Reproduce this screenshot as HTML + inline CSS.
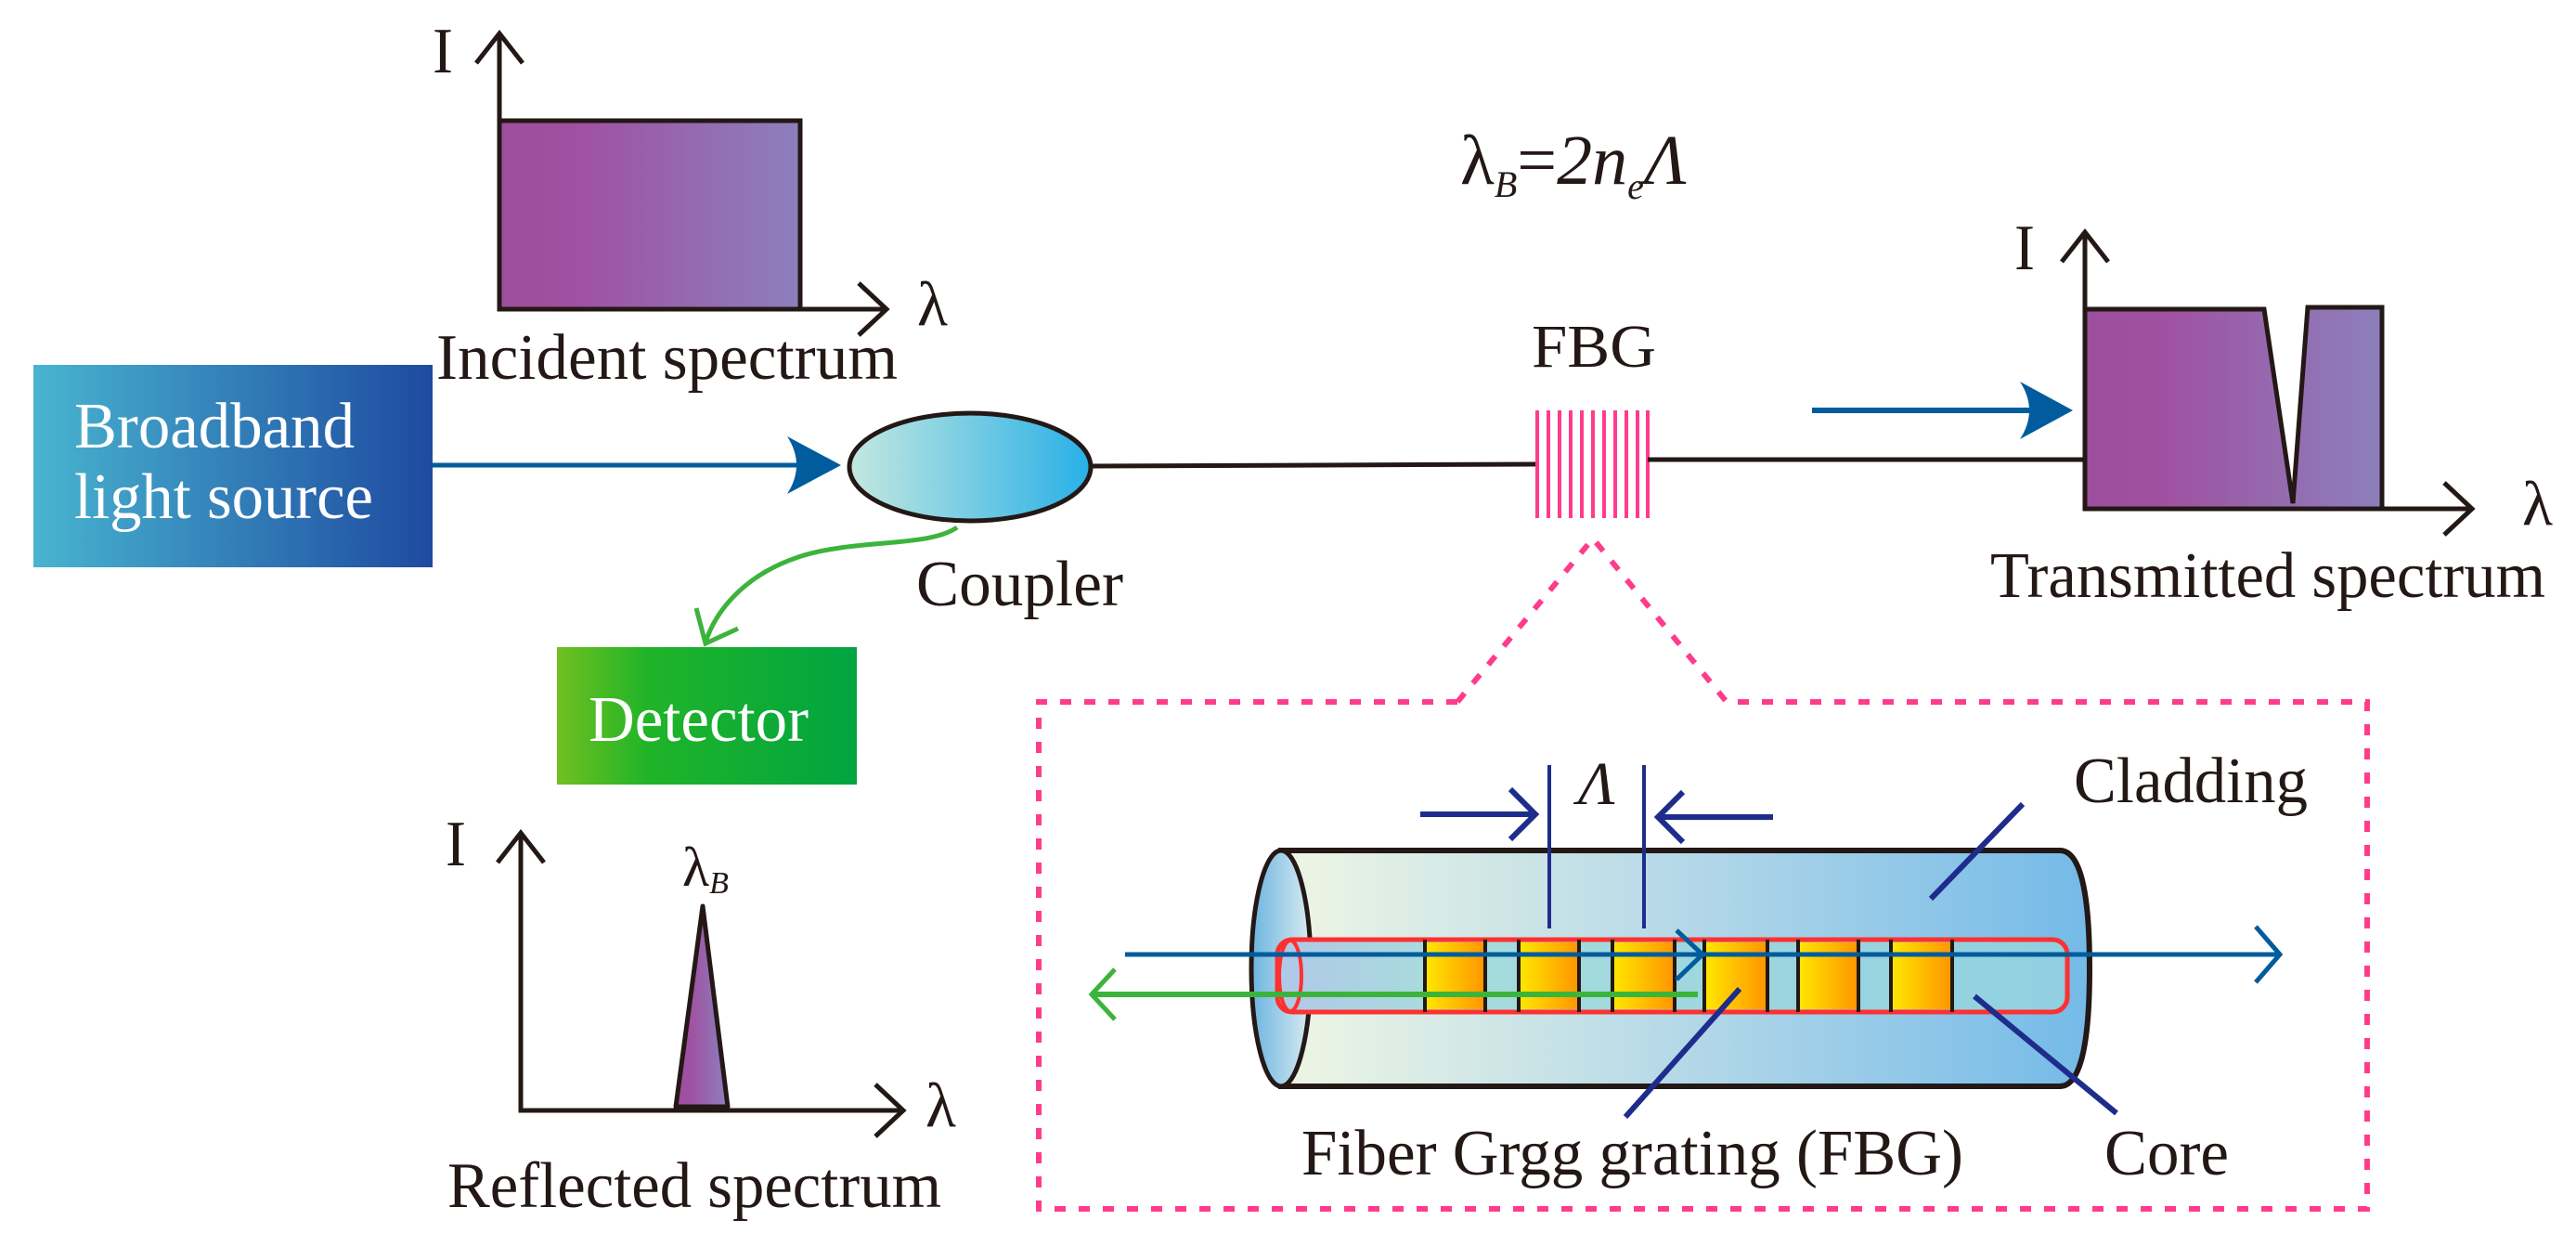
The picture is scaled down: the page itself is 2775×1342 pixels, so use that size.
<!DOCTYPE html>
<html><head><meta charset="utf-8"><style>html,body{margin:0;padding:0;background:#fff}svg{display:block}text{font-family:"Liberation Serif",serif;fill:#231815}</style></head>
<body>
<svg width="2775" height="1342" viewBox="0 0 2775 1342" xmlns="http://www.w3.org/2000/svg">
<defs>
<linearGradient id="pur" x1="0" x2="1"><stop offset="0" stop-color="#9c4f9c"/><stop offset="0.25" stop-color="#a050a0"/><stop offset="1" stop-color="#8c80bc"/></linearGradient>
<linearGradient id="bb" x1="0" x2="1"><stop offset="0" stop-color="#48b4d0"/><stop offset="1" stop-color="#1e4aa0"/></linearGradient>
<linearGradient id="cp" x1="0" x2="1"><stop offset="0" stop-color="#c4e8e0"/><stop offset="1" stop-color="#28b0e6"/></linearGradient>
<linearGradient id="det" x1="0" x2="1"><stop offset="0" stop-color="#70c020"/><stop offset="0.3" stop-color="#20b428"/><stop offset="1" stop-color="#00a440"/></linearGradient>
<linearGradient id="cyl" x1="0" x2="1"><stop offset="0" stop-color="#eef6e4"/><stop offset="0.5" stop-color="#b4d8e8"/><stop offset="1" stop-color="#74bae8"/></linearGradient>
<linearGradient id="end" x1="0" x2="1"><stop offset="0" stop-color="#6cb4e0"/><stop offset="1" stop-color="#d8ecf0"/></linearGradient>
<linearGradient id="core" x1="0" x2="1"><stop offset="0" stop-color="#b0c8e8"/><stop offset="0.2" stop-color="#a8dcdc"/><stop offset="1" stop-color="#90d0e0"/></linearGradient>
<linearGradient id="blk" x1="0" x2="1"><stop offset="0" stop-color="#ffe800"/><stop offset="1" stop-color="#ff9400"/></linearGradient>
</defs>

<!-- Incident spectrum -->
<rect x="538" y="130" width="324" height="203" fill="url(#pur)"/>
<polyline points="538,130 862,130 862,333" fill="none" stroke="#231815" stroke-width="5"/>
<polyline points="538,36 538,333 955,333" fill="none" stroke="#231815" stroke-width="5"/>
<polyline points="513,68 538,36 563,68" fill="none" stroke="#231815" stroke-width="5"/>
<polyline points="925,305 955,333 925,361" fill="none" stroke="#231815" stroke-width="5"/>
<text x="466" y="78" font-size="70" textLength="22" lengthAdjust="spacingAndGlyphs">I</text>
<text x="988" y="350" font-size="68">λ</text>
<text x="470" y="408" font-size="70" textLength="497" lengthAdjust="spacingAndGlyphs">Incident spectrum</text>

<!-- Broadband -->
<rect x="36" y="393" width="430" height="218" fill="url(#bb)"/>
<text x="80" y="482" font-size="70" style="fill:#fff" textLength="302" lengthAdjust="spacingAndGlyphs">Broadband</text>
<text x="80" y="558" font-size="70" style="fill:#fff" textLength="322" lengthAdjust="spacingAndGlyphs">light source</text>
<line x1="466" y1="501" x2="880" y2="501" stroke="#005c9c" stroke-width="5"/>
<path d="M906,501 L848,470 Q868,501 848,532 Z" fill="#005c9c"/>

<!-- coupler -->
<line x1="1174" y1="502" x2="1654" y2="500" stroke="#231815" stroke-width="5"/>
<ellipse cx="1045" cy="503" rx="130" ry="58" fill="url(#cp)" stroke="#231815" stroke-width="5"/>
<text x="987" y="652" font-size="70" textLength="223" lengthAdjust="spacingAndGlyphs">Coupler</text>
<path d="M1031,568 C1000,590 920,580 860,600 C800,620 770,660 760,692" fill="none" stroke="#3cb43c" stroke-width="5"/>
<polyline points="750,655 760,693 795,677" fill="none" stroke="#3cb43c" stroke-width="5"/>

<!-- detector -->
<rect x="600" y="697" width="323" height="148" fill="url(#det)"/>
<text x="634" y="798" font-size="70" style="fill:#fff" textLength="237" lengthAdjust="spacingAndGlyphs">Detector</text>

<!-- FBG -->
<g stroke="#ff3c8c" stroke-width="4">
<line x1="1656" y1="442" x2="1656" y2="558"/><line x1="1668" y1="442" x2="1668" y2="558"/><line x1="1680" y1="442" x2="1680" y2="558"/><line x1="1692" y1="442" x2="1692" y2="558"/><line x1="1704" y1="442" x2="1704" y2="558"/><line x1="1716" y1="442" x2="1716" y2="558"/><line x1="1728" y1="442" x2="1728" y2="558"/><line x1="1740" y1="442" x2="1740" y2="558"/><line x1="1752" y1="442" x2="1752" y2="558"/><line x1="1764" y1="442" x2="1764" y2="558"/><line x1="1775" y1="442" x2="1775" y2="558"/>
</g>
<line x1="1775" y1="495" x2="2246" y2="495" stroke="#231815" stroke-width="5"/>
<text x="1650" y="395" font-size="66" textLength="134" lengthAdjust="spacingAndGlyphs">FBG</text>
<text x="1573" y="198" font-size="76">λ<tspan font-size="40" font-style="italic" dy="14">B</tspan><tspan dy="-14">=</tspan><tspan font-style="italic">2n</tspan><tspan font-size="40" font-style="italic" dy="16">e</tspan><tspan font-style="italic" dy="-16">Λ</tspan></text>

<!-- transmitted -->
<line x1="1952" y1="442" x2="2205" y2="442" stroke="#005c9c" stroke-width="6"/>
<path d="M2233,442 L2176,411 Q2196,442 2176,473 Z" fill="#005c9c"/>
<path d="M2246,333 L2439,333 L2470,542 L2486,331 L2566,331 L2566,548 L2246,548 Z" fill="url(#pur)"/>
<polyline points="2246,333 2439,333 2470,542 2486,331 2566,331 2566,548" fill="none" stroke="#231815" stroke-width="5"/>
<polyline points="2246,250 2246,548 2663,548" fill="none" stroke="#231815" stroke-width="5"/>
<polyline points="2221,282 2246,250 2271,282" fill="none" stroke="#231815" stroke-width="5"/>
<polyline points="2633,520 2663,548 2633,576" fill="none" stroke="#231815" stroke-width="5"/>
<text x="2170" y="290" font-size="70" textLength="22" lengthAdjust="spacingAndGlyphs">I</text>
<text x="2717" y="565" font-size="68">λ</text>
<text x="2144" y="643" font-size="70" textLength="598" lengthAdjust="spacingAndGlyphs">Transmitted spectrum</text>

<!-- reflected -->
<path d="M728,1192 L757,976 L784,1192 Z" fill="url(#pur)" stroke="#231815" stroke-width="5" stroke-linejoin="round"/>
<polyline points="561,897 561,1196 973,1196" fill="none" stroke="#231815" stroke-width="5"/>
<polyline points="536,929 561,897 586,929" fill="none" stroke="#231815" stroke-width="5"/>
<polyline points="943,1168 973,1196 943,1224" fill="none" stroke="#231815" stroke-width="5"/>
<text x="480" y="932" font-size="70" textLength="22" lengthAdjust="spacingAndGlyphs">I</text>
<text x="997" y="1213" font-size="68">λ</text>
<text x="735" y="954" font-size="60">λ<tspan font-size="34" font-style="italic" dy="8">B</tspan></text>
<text x="482" y="1300" font-size="70" textLength="532" lengthAdjust="spacingAndGlyphs">Reflected spectrum</text>

<!-- dashed box -->
<path d="M1570,756 L1119,756 L1119,1302 L2550,1302 L2550,756 L1860,756 L1716,580 L1570,756" fill="none" stroke="#ff3c8c" stroke-width="6" stroke-dasharray="12,14"/>

<!-- cylinder -->
<path d="M1380,916 L2219,916 Q2251,916 2251,1043 Q2251,1170 2219,1170 L1380,1170 Z" fill="url(#cyl)" stroke="#231815" stroke-width="6"/>
<ellipse cx="1380" cy="1043" rx="32" ry="127" fill="url(#end)" stroke="#231815" stroke-width="5"/>
<rect x="1376" y="1012" width="851" height="78" rx="16" fill="url(#core)" stroke="#ff3030" stroke-width="5"/>
<ellipse cx="1390" cy="1051" rx="12" ry="38" fill="none" stroke="#ff3030" stroke-width="4"/>
<g fill="url(#blk)">
<rect x="1535" y="1015" width="65" height="72"/><rect x="1636" y="1015" width="65" height="72"/><rect x="1737" y="1015" width="67" height="72"/><rect x="1836" y="1015" width="68" height="72"/><rect x="1937" y="1015" width="65" height="72"/><rect x="2037" y="1015" width="66" height="72"/>
</g>
<g stroke="#231815" stroke-width="4">
<line x1="1535" y1="1012" x2="1535" y2="1090"/><line x1="1600" y1="1012" x2="1600" y2="1090"/><line x1="1636" y1="1012" x2="1636" y2="1090"/><line x1="1701" y1="1012" x2="1701" y2="1090"/><line x1="1737" y1="1012" x2="1737" y2="1090"/><line x1="1804" y1="1012" x2="1804" y2="1090"/><line x1="1836" y1="1012" x2="1836" y2="1090"/><line x1="1904" y1="1012" x2="1904" y2="1090"/><line x1="1937" y1="1012" x2="1937" y2="1090"/><line x1="2002" y1="1012" x2="2002" y2="1090"/><line x1="2037" y1="1012" x2="2037" y2="1090"/><line x1="2103" y1="1012" x2="2103" y2="1090"/>
</g>
<line x1="1212" y1="1028" x2="2454" y2="1028" stroke="#005c9c" stroke-width="5"/>
<polyline points="2430,998 2456,1028 2430,1058" fill="none" stroke="#005c9c" stroke-width="5"/>
<polyline points="1806,1002 1834,1028 1806,1055" fill="none" stroke="#005c9c" stroke-width="5"/>
<line x1="1177" y1="1071" x2="1829" y2="1071" stroke="#3cb43c" stroke-width="6"/>
<polyline points="1201,1044 1176,1071 1201,1098" fill="none" stroke="#3cb43c" stroke-width="5"/>

<!-- lambda dims -->
<g stroke="#1e2c8c" stroke-width="4" fill="none">
<line x1="1669" y1="824" x2="1669" y2="1000"/><line x1="1771" y1="824" x2="1771" y2="1000"/>
</g>
<g stroke="#1e2c8c" stroke-width="6" fill="none">
<line x1="1530" y1="877" x2="1650" y2="877"/><polyline points="1627,850 1654,877 1627,904"/>
<line x1="1910" y1="880" x2="1790" y2="880"/><polyline points="1813,853 1786,880 1813,907"/>
<line x1="2179" y1="866" x2="2080" y2="968"/>
<line x1="1874" y1="1065" x2="1751" y2="1203"/>
<line x1="2127" y1="1073" x2="2280" y2="1199"/>
</g>
<text x="1700" y="866" font-size="66" font-style="italic">Λ</text>
<text x="2234" y="864" font-size="70" textLength="252" lengthAdjust="spacingAndGlyphs">Cladding</text>
<text x="1402" y="1265" font-size="70" textLength="713" lengthAdjust="spacingAndGlyphs">Fiber Grgg grating (FBG)</text>
<text x="2267" y="1265" font-size="70" textLength="134" lengthAdjust="spacingAndGlyphs">Core</text>
</svg>
</body></html>
